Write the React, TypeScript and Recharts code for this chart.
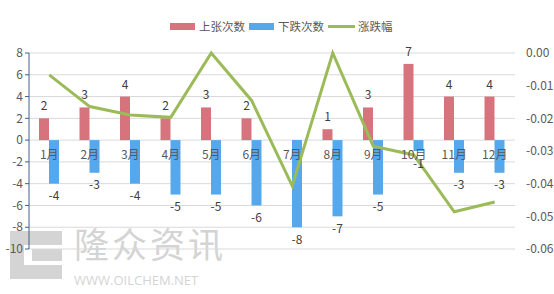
import { Bar, ComposedChart, CartesianGrid, LabelList, Line, XAxis, YAxis } from "recharts";

const months = ["1月", "2月", "3月", "4月", "5月", "6月", "7月", "8月", "9月", "10月", "11月", "12月"];
const upCounts = [2, 3, 4, 2, 3, 2, 0, 1, 3, 7, 4, 4];
const downCounts = [-4, -3, -4, -5, -5, -6, -8, -7, -5, -1, -3, -3];
const changePct = [-0.0067, -0.0164, -0.019, -0.0197, 0, -0.0146, -0.0407, 0, -0.0285, -0.0312, -0.0486, -0.0456];
const leftTicks = [8, 6, 4, 2, 0, -2, -4, -6, -8, -10];
const rightTicks = [0, -0.01, -0.02, -0.03, -0.04, -0.05, -0.06];

const RED = "#d7737d";
const BLUE = "#56a8ec";
const GREEN = "#9bbb59";
const TEXT = "#595959";
const FONT = "'Noto Sans CJK SC', 'Noto Sans', sans-serif";

const W = 554;
const H = 294;
const TOP = 53;
const BOTTOM = 45;
const PLOT_H = H - TOP - BOTTOM;
const ZERO_Y = TOP + (PLOT_H * 8) / 18;

const data = months.map((m, i) => ({
  month: m,
  up: upCounts[i],
  down: downCounts[i],
  pct: changePct[i],
}));

// month labels sit just under the zero line, not at the bottom of the plot
function MonthTick({ x, payload }: any) {
  return (
    <text x={x} y={ZERO_Y + 19} textAnchor="middle" fill={TEXT} fontSize={12} fontFamily={FONT}>
      {payload.value}
    </text>
  );
}

function LegendBox() {
  const item = { display: "flex", alignItems: "center", marginRight: 4 } as const;
  return (
    <div
      style={{
        position: "absolute",
        top: 17,
        left: 170,
        display: "flex",
        fontSize: 11.5,
        lineHeight: "18px",
        color: TEXT,
        fontFamily: FONT,
      }}
    >
      <div style={item}>
        <span style={{ width: 25, height: 7, background: RED, marginRight: 4 }} />
        上张次数
      </div>
      <div style={item}>
        <span style={{ width: 25, height: 7, background: BLUE, marginRight: 4 }} />
        下跌次数
      </div>
      <div style={item}>
        <span style={{ width: 27, height: 3, background: GREEN, marginRight: 3 }} />
        涨跌幅
      </div>
    </div>
  );
}

function Watermark() {
  return (
    <svg width={W} height={H} style={{ position: "absolute", left: 0, top: 0, pointerEvents: "none" }}>
      <g fill="#d4d4d4">
        <rect x={10} y={231} width={52} height={14} />
        <rect x={10} y={231} width={14} height={48} />
        <rect x={10} y={265} width={52} height={14} />
        <rect x={32} y={249} width={30} height={12} />
      </g>
      <text x={74} y={258} fontSize={35} fill="#d4d4d4" fontFamily={FONT} letterSpacing={3}>
        隆众资讯
      </text>
      <text x={74} y={285} fontSize={13} fill="#d4d4d4" fontFamily="'Open Sans', sans-serif">
        WWW.OILCHEM.NET
      </text>
    </svg>
  );
}

export default function App() {
  return (
    <div style={{ position: "absolute", left: 0, top: 0, width: W, height: H, background: "#fff" }}>
      <Watermark />
      <LegendBox />
      <ComposedChart
        width={W}
        height={H}
        data={data}
        margin={{ top: TOP, right: 0, bottom: BOTTOM - 1, left: 0 }}
        barGap={0}
        barSize={10}
        style={{ position: "absolute", left: 0, top: 0, fontFamily: FONT }}
      >
        <CartesianGrid vertical={false} stroke="#d9d9d9" yAxisId="left" />
        <XAxis dataKey="month" axisLine={false} tickLine={false} height={1} tick={<MonthTick />} interval={0} />
        <YAxis
          yAxisId="left"
          width={29}
          domain={[-10, 8]}
          ticks={leftTicks}
          interval={0}
          axisLine={{ stroke: "#41608a" }}
          tickLine={{ stroke: "#41608a" }}
          tickSize={4}
          tick={{ fill: TEXT, fontSize: 12 }}
          tickMargin={2}
        />
        <YAxis
          yAxisId="right"
          orientation="right"
          width={39}
          domain={[-0.06, 0]}
          ticks={rightTicks}
          interval={0}
          axisLine={false}
          tickLine={false}
          tick={{ fill: TEXT, fontSize: 12 }}
          tickMargin={5}
          tickFormatter={(v: number) => v.toFixed(2)}
        />
        <Bar yAxisId="left" dataKey="up" fill={RED} isAnimationActive={false}>
          <LabelList dataKey="up" position="top" offset={8} fill="#404040" fontSize={12} />
        </Bar>
        <Bar yAxisId="left" dataKey="down" fill={BLUE} isAnimationActive={false}>
          <LabelList dataKey="down" position="top" offset={8} fill="#404040" fontSize={12} />
        </Bar>
        <Line
          yAxisId="right"
          type="linear"
          dataKey="pct"
          stroke={GREEN}
          strokeWidth={3}
          dot={false}
          isAnimationActive={false}
        />
      </ComposedChart>
    </div>
  );
}
